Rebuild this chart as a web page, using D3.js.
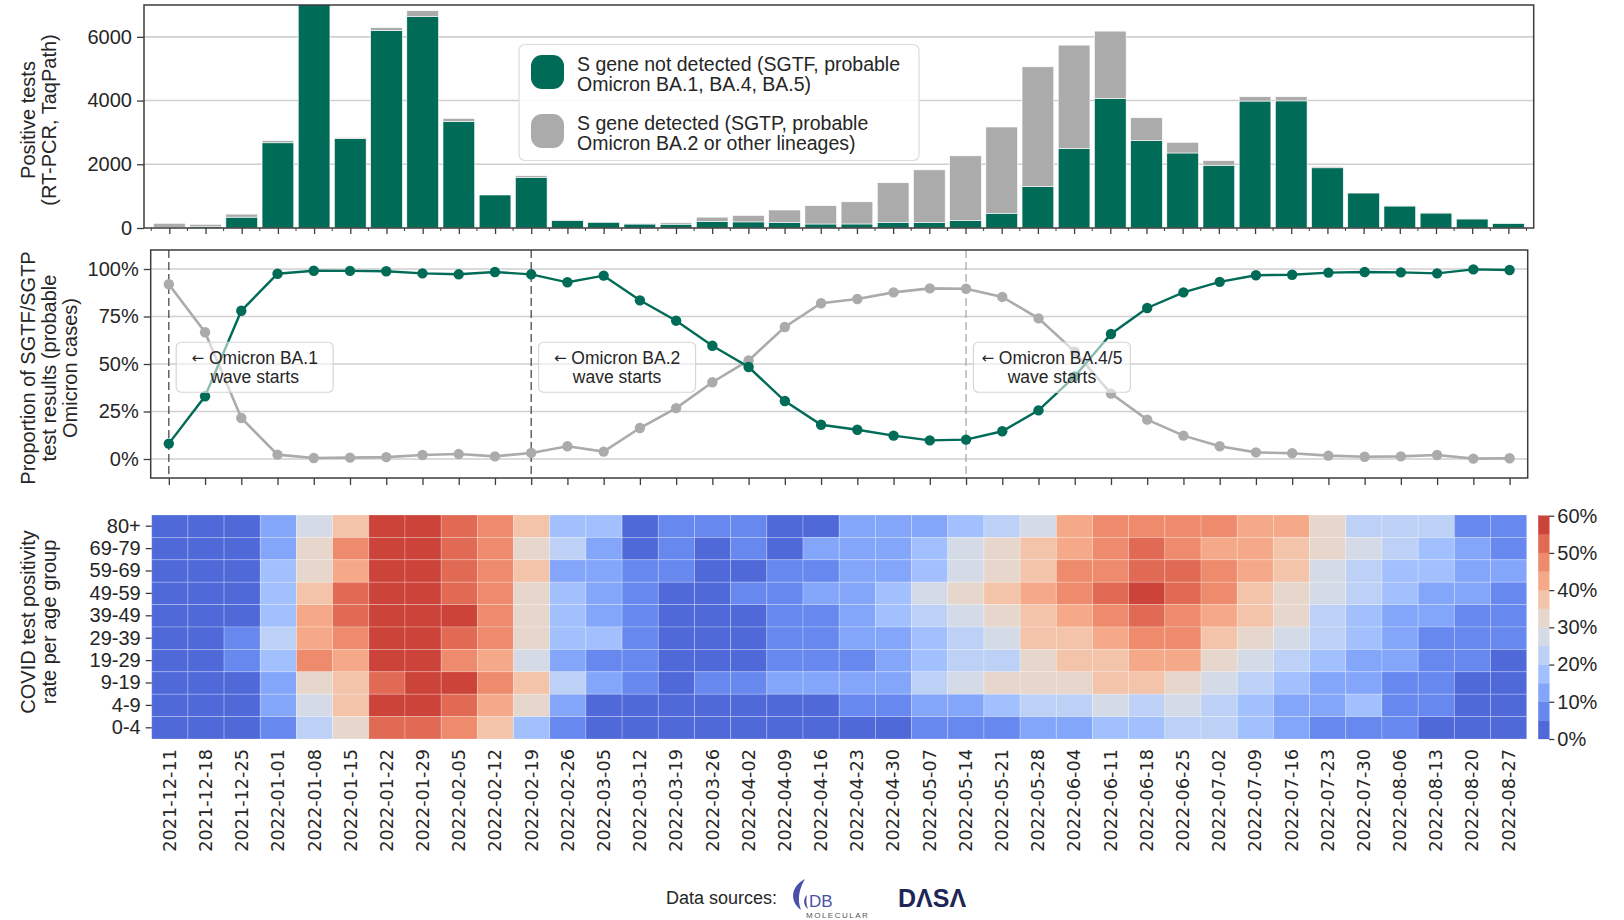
<!DOCTYPE html>
<html><head><meta charset="utf-8">
<script src="https://cdn.jsdelivr.net/npm/d3@7"></script>
<style>
body{margin:0;background:#fff;}
svg text{font-family:"Liberation Sans",Arial,sans-serif;fill:#262626;}
</style></head><body>
<svg id="chart" width="1624" height="920"></svg>
<script>
// ---------------- DATA ----------------
const weeks = ["2021-12-11","2021-12-18","2021-12-25","2022-01-01","2022-01-08","2022-01-15","2022-01-22","2022-01-29","2022-02-05","2022-02-12","2022-02-19","2022-02-26","2022-03-05","2022-03-12","2022-03-19","2022-03-26","2022-04-02","2022-04-09","2022-04-16","2022-04-23","2022-04-30","2022-05-07","2022-05-14","2022-05-21","2022-05-28","2022-06-04","2022-06-11","2022-06-18","2022-06-25","2022-07-02","2022-07-09","2022-07-16","2022-07-23","2022-07-30","2022-08-06","2022-08-13","2022-08-20","2022-08-27"];

// positive tests (counts): S gene not detected (SGTF) and S gene detected (SGTP)
const sgtfCounts = [12,38,340,2675,7130,2810,6200,6640,3345,1040,1590,238,183,125,120,203,192,175,126,127,175,179,231,463,1300,2500,4070,2740,2355,1970,3985,3990,1890,1100,690,470,284,149];
const sgtpCounts = [135,77,95,65,70,30,90,180,95,15,50,17,7,25,45,137,203,390,574,695,1245,1646,2034,2707,3760,3240,2110,720,335,145,135,130,40,15,10,10,1,1];

// proportion of results (%)
const sgtfShare = [8.1,33,78,97.5,99.1,99,98.8,97.7,97.2,98.4,97.2,93,96.5,83.5,72.8,59.6,48.4,30.5,18,15.4,12.3,9.8,10.2,14.6,25.6,43.5,65.8,79.5,87.7,93.2,96.7,97,98.1,98.4,98.2,97.7,99.8,99.5];
const sgtpShare = [92,66.7,21.6,2.3,0.5,0.7,1,2.1,2.6,1.4,3.2,6.7,3.9,16.3,26.8,40.4,51.9,69.5,82,84.2,87.7,89.8,89.6,85.3,74,56.5,34.4,20.7,12.3,6.7,3.5,3,1.8,1.2,1.4,2.1,0.2,0.4];

// wave starts
const waveStarts = ["2021-12-11","2022-02-19","2022-05-14"];
const waveNames = ["Omicron BA.1","Omicron BA.2","Omicron BA.4/5"];
const waveSub = "wave starts";

// test positivity (%) per age group
const ageGroups = ["80+","69-79","59-69","49-59","39-49","29-39","19-29","9-19","4-9","0-4"];
const pos80plus = [3,3,3,13,28,38,58,58,53,48,38,18,18,3,8,8,8,3,3,13,13,13,18,23,28,43,48,48,48,48,43,43,33,23,23,23,8,8];
const pos69to79 = [3,3,3,13,33,48,58,58,53,48,33,23,13,3,8,3,8,3,13,13,13,18,28,33,38,43,48,53,48,43,43,38,33,28,23,18,13,8];
const pos59to69 = [3,3,3,18,33,43,58,58,53,48,38,13,13,8,8,3,3,8,8,13,13,18,28,33,38,48,48,53,53,48,43,38,28,23,18,18,13,13];
const pos49to59 = [3,3,3,18,38,53,58,58,53,48,33,18,13,8,3,3,8,8,13,13,18,28,33,38,43,48,53,58,53,48,38,33,28,23,18,13,13,8];
const pos39to49 = [3,3,3,18,43,53,58,58,58,48,33,18,13,8,3,3,3,8,8,13,18,23,28,33,38,43,48,53,48,43,38,33,23,18,13,13,8,8];
const pos29to39 = [3,3,8,23,43,48,58,58,53,48,33,18,18,8,3,3,3,8,8,13,13,18,23,28,38,38,43,48,48,38,33,28,23,18,13,8,8,8];
const pos19to29 = [3,3,8,18,48,43,58,58,48,43,28,13,8,8,3,3,3,8,8,8,13,18,23,23,33,38,38,43,43,33,28,23,18,13,13,8,8,3];
const pos9to19  = [3,3,3,13,33,38,53,58,58,48,38,23,13,8,3,8,8,13,13,13,13,23,28,33,33,33,38,38,33,28,23,18,13,13,8,8,3,3];
const pos4to9   = [3,3,3,13,28,38,58,58,53,43,33,13,3,3,3,3,3,3,3,8,8,13,13,18,23,23,28,23,28,23,18,13,13,18,8,8,3,3];
const pos0to4   = [3,3,3,8,23,33,53,53,48,38,18,8,3,3,3,3,3,3,3,3,3,8,8,8,13,13,18,18,23,23,18,13,8,8,8,3,3,3];

// tick values
const barTicks = [0,2000,4000,6000];
const shareTicks = [0,25,50,75,100];
const colorBounds = [0,5,10,15,20,25,30,35,40,45,50,55,60];
const colorTicks = [0,10,20,30,40,50,60];

// ---------------- STYLE ----------------
const GREEN = "#006b56", GREY = "#ababab", FRAME = "#3d3d3d", GRID = "#cfcfcf";
const palette = ["#4f69d9","#6788ee","#84a6fa","#a2c0fd","#bdd1f6","#d4dbe6","#e6d6cc","#f3c3aa","#f5a989","#ee8b6c","#e06a53","#cc4339"];
const FS = 20;

const svg = d3.select("#chart");
const idx = d => weeks.indexOf(d);

function frame(g, b){
  g.append("rect").attr("x",b.l).attr("y",b.t).attr("width",b.r-b.l).attr("height",b.b-b.t)
   .attr("fill","none").attr("stroke",FRAME).attr("stroke-width",1.5);
}
function vtitle(lines, cx, cy, pitch){
  const n = lines.length;
  lines.forEach((s,i)=>{
    const x = cx + (i-(n-1)/2)*pitch;
    svg.append("text").attr("transform",`translate(${x},${cy}) rotate(-90)`)
      .attr("text-anchor","middle").attr("dominant-baseline","central")
      .style("font-size","20px").text(s);
  });
}
function styleAxis(g){
  g.select(".domain").remove();
  g.selectAll(".tick line").attr("stroke",FRAME).attr("stroke-width",1.3);
  g.selectAll(".tick text").style("font-family","'Liberation Sans',Arial,sans-serif").style("font-size",FS+"px").attr("fill","#262626");
}

// ---------------- TOP PANEL: bars ----------------
const T = {l:144, r:1533.7, t:5, b:228};
const xTop = d3.scalePoint().domain(weeks).range([T.l, T.r]).padding(0.7);
const yTop = d3.scaleLinear().domain([0,7000]).range([T.b, T.t]);
const gT = svg.append("g");
gT.selectAll("line.grid").data(barTicks.slice(1)).join("line")
  .attr("x1",T.l).attr("x2",T.r).attr("y1",d=>yTop(d)).attr("y2",d=>yTop(d))
  .attr("stroke",GRID).attr("stroke-width",1.6);
svg.append("clipPath").attr("id","clipT").append("rect")
  .attr("x",T.l).attr("y",T.t).attr("width",T.r-T.l).attr("height",T.b-T.t);
const bw = xTop.step()*0.876;
const gBars = gT.append("g").attr("clip-path","url(#clipT)");
gBars.selectAll("rect.sgtf").data(weeks).join("rect").attr("class","sgtf")
  .attr("x",d=>xTop(d)-bw/2).attr("width",bw)
  .attr("y",(d,i)=>yTop(sgtfCounts[i])).attr("height",(d,i)=>yTop(0)-yTop(sgtfCounts[i]))
  .attr("fill",GREEN).attr("stroke","#fff").attr("stroke-width",0.6);
gBars.selectAll("rect.sgtp").data(weeks).join("rect").attr("class","sgtp")
  .attr("x",d=>xTop(d)-bw/2).attr("width",bw)
  .attr("y",(d,i)=>yTop(sgtfCounts[i]+sgtpCounts[i]))
  .attr("height",(d,i)=>yTop(sgtfCounts[i])-yTop(sgtfCounts[i]+sgtpCounts[i]))
  .attr("fill",GREY).attr("stroke","#fff").attr("stroke-width",0.6);
const axTL = gT.append("g").attr("transform",`translate(${T.l},0)`)
  .call(d3.axisLeft(yTop).tickValues(barTicks).tickSize(7).tickPadding(5).tickFormat(d3.format("d")));
styleAxis(axTL);
const axTB = gT.append("g").attr("transform",`translate(0,${T.b})`)
  .call(d3.axisBottom(xTop).tickSize(6).tickFormat(""));
styleAxis(axTB);
// minor ticks between bars
gT.selectAll("line.minor").data(weeks.concat(["__end"])).join("line")
  .attr("x1",(d,i)=>xTop(weeks[0]) + (i-0.5)*xTop.step()).attr("x2",(d,i)=>xTop(weeks[0]) + (i-0.5)*xTop.step())
  .attr("y1",T.b).attr("y2",T.b+3).attr("stroke",FRAME).attr("stroke-width",1);
frame(gT,T);

// legend
const gL = svg.append("g");
gL.append("rect").attr("x",519).attr("y",44.5).attr("width",400).attr("height",116).attr("rx",6)
  .attr("fill","rgba(255,255,255,0.85)").attr("stroke","#dcdcdc").attr("stroke-width",1.2);
const legItems = [{c:GREEN,y:55,l:["S gene not detected (SGTF, probable","Omicron BA.1, BA.4, BA.5)"]},
                  {c:GREY,y:114,l:["S gene detected (SGTP, probable","Omicron BA.2 or other lineages)"]}];
legItems.forEach(it=>{
  gL.append("rect").attr("x",531).attr("y",it.y).attr("width",33).attr("height",34).attr("rx",11).attr("fill",it.c);
  it.l.forEach((s,i)=>gL.append("text").attr("x",577).attr("y",it.y+9+i*20)
    .attr("dominant-baseline","central").style("font-size","19.5px").text(s));
});

// ---------------- MIDDLE PANEL: proportions ----------------
const M = {l:150.7, r:1527.7, t:250, b:478};
const xMidLin = d3.scaleLinear().domain([-0.5, weeks.length-0.5]).range([M.l, M.r]);
const xMid = d => xMidLin(idx(d));
const yMid = d3.scaleLinear().domain([-10,110]).range([M.b, M.t]);
const gM = svg.append("g");
gM.selectAll("line.grid").data(shareTicks).join("line")
  .attr("x1",M.l).attr("x2",M.r).attr("y1",d=>yMid(d)).attr("y2",d=>yMid(d))
  .attr("stroke",GRID).attr("stroke-width",1.6);
gM.selectAll("line.wave").data(waveStarts).join("line")
  .attr("x1",d=>xMid(d)).attr("x2",d=>xMid(d)).attr("y1",M.t).attr("y2",M.b)
  .attr("stroke",(d,i)=>i<2?"#4a4a4a":"#a8a8a8").attr("stroke-width",1.3).attr("stroke-dasharray","8,4");
const lineGen = arr => d3.line().x((d,i)=>xMid(weeks[i])).y(d=>yMid(d))(arr);
gM.append("path").attr("d",lineGen(sgtpShare)).attr("fill","none").attr("stroke",GREY).attr("stroke-width",2.6);
gM.selectAll("circle.sgtp").data(sgtpShare).join("circle")
  .attr("cx",(d,i)=>xMid(weeks[i])).attr("cy",d=>yMid(d)).attr("r",5.2).attr("fill",GREY);
gM.append("path").attr("d",lineGen(sgtfShare)).attr("fill","none").attr("stroke",GREEN).attr("stroke-width",2.4);
gM.selectAll("circle.sgtf").data(sgtfShare).join("circle")
  .attr("cx",(d,i)=>xMid(weeks[i])).attr("cy",d=>yMid(d)).attr("r",5.2).attr("fill",GREEN);
// annotation boxes
waveStarts.forEach((w,i)=>{
  const cx = xMidLin(idx(w)+2.37), cy = yMid(48.3);
  gM.append("rect").attr("x",cx-78.5).attr("y",cy-25).attr("width",157).attr("height",50).attr("rx",5)
    .attr("fill","rgba(255,255,255,0.55)").attr("stroke","#d6d6d6").attr("stroke-width",1.2);
  const t1 = gM.append("text").attr("x",cx).attr("y",cy-9.5)
    .attr("text-anchor","middle").attr("dominant-baseline","central").style("font-size","17.5px");
  t1.append("tspan").style("font-family","'DejaVu Sans',sans-serif").style("font-size","15px").text("←");
  t1.append("tspan").text(" " + waveNames[i]);
  gM.append("text").attr("x",cx).attr("y",cy+9.5)
    .attr("text-anchor","middle").attr("dominant-baseline","central").style("font-size","17.5px").text(waveSub);
});
const axML = gM.append("g").attr("transform",`translate(${M.l},0)`)
  .call(d3.axisLeft(yMid).tickValues(shareTicks).tickSize(7).tickPadding(5).tickFormat(d=>d+"%"));
styleAxis(axML);
const axMB = gM.append("g").attr("transform",`translate(0,${M.b})`)
  .call(d3.axisBottom(xMidLin).tickValues(d3.range(weeks.length)).tickSize(7).tickFormat(""));
styleAxis(axMB);
frame(gM,M);

// ---------------- HEATMAP ----------------
const H = {l:151.7, r:1526.7, t:515, b:739};
const heatRows = [pos80plus,pos69to79,pos59to69,pos49to59,pos39to49,pos29to39,pos19to29,pos9to19,pos4to9,pos0to4];
const xHeat = d3.scaleBand().domain(weeks).range([H.l, H.r]);
const yHeat = d3.scaleBand().domain(ageGroups).range([H.t, H.b]);
const color = d3.scaleThreshold().domain(colorBounds.slice(1,-1)).range(palette);
const cells = [];
heatRows.forEach((row,r)=>row.forEach((v,c)=>cells.push({age:ageGroups[r],week:weeks[c],v})));
const gH = svg.append("g");
gH.selectAll("rect.cell").data(cells).join("rect")
  .attr("x",d=>xHeat(d.week)).attr("y",d=>yHeat(d.age))
  .attr("width",xHeat.bandwidth()).attr("height",yHeat.bandwidth())
  .attr("fill",d=>color(d.v)).attr("stroke","rgba(255,255,255,0.3)").attr("stroke-width",0.8);
const axHL = gH.append("g").attr("transform",`translate(${H.l},0)`)
  .call(d3.axisLeft(yHeat).tickSize(6).tickPadding(5));
styleAxis(axHL);
gH.selectAll("text.date").data(weeks).join("text")
  .attr("transform",d=>`translate(${xHeat(d)+xHeat.bandwidth()/2},${H.b+10}) rotate(-90)`)
  .attr("text-anchor","end").attr("dominant-baseline","central")
  .style("font-family","'DejaVu Sans',sans-serif").style("font-size","17.7px").text(d=>d);

// colorbar
const C = {l:1538.3, r:1549.3, t:515.7, b:739};
const yCb = d3.scaleLinear().domain([0,60]).range([C.b, C.t]);
const gC = svg.append("g");
gC.selectAll("rect").data(palette).join("rect")
  .attr("x",C.l).attr("width",C.r-C.l)
  .attr("y",(d,i)=>yCb(colorBounds[i+1])).attr("height",(d,i)=>yCb(colorBounds[i])-yCb(colorBounds[i+1]))
  .attr("fill",d=>d).attr("stroke",d=>d).attr("stroke-width",0.3);
const axC = gC.append("g").attr("transform",`translate(${C.r},0)`)
  .call(d3.axisRight(yCb).tickValues(colorTicks).tickSize(5).tickPadding(3).tickFormat(d=>d+"%"));
styleAxis(axC);

// ---------------- Y TITLES ----------------
vtitle(["Positive tests","(RT-PCR, TaqPath)"], 38.5, 120, 21);
vtitle(["Proportion of SGTF/SGTP","test results (probable","Omicron cases)"], 49, 368, 21);
vtitle(["COVID test positivity","rate per age group"], 38.5, 622, 21);

// ---------------- SOURCES ----------------
svg.append("text").attr("x",666).attr("y",898).attr("dominant-baseline","central")
  .style("font-size","18px").text("Data sources:");
const gLogo = svg.append("g");
gLogo.append("path").attr("d","M805,879 C791,886 789,901 801,910 C797,900 799,889 805,879 Z").attr("fill","#4a4fa8");
gLogo.append("path").attr("d","M807,895 C803,899 803,905 808,909 C806,904 806,900 807,895 Z").attr("fill","#4a4fa8");
gLogo.append("text").attr("x",809).attr("y",901).attr("dominant-baseline","central")
  .style("font-size","17px").style("fill","#4a52a8").text("DB");
gLogo.append("text").attr("x",806).attr("y",915).attr("dominant-baseline","central")
  .style("font-size","8px").style("letter-spacing","1.5px").style("fill","#555").text("MOLECULAR");
gLogo.append("text").attr("x",898).attr("y",898).attr("dominant-baseline","central")
  .style("font-size","25px").style("font-weight","bold").style("fill","#1d2757").text("DΛSΛ");
</script>
</body></html>
